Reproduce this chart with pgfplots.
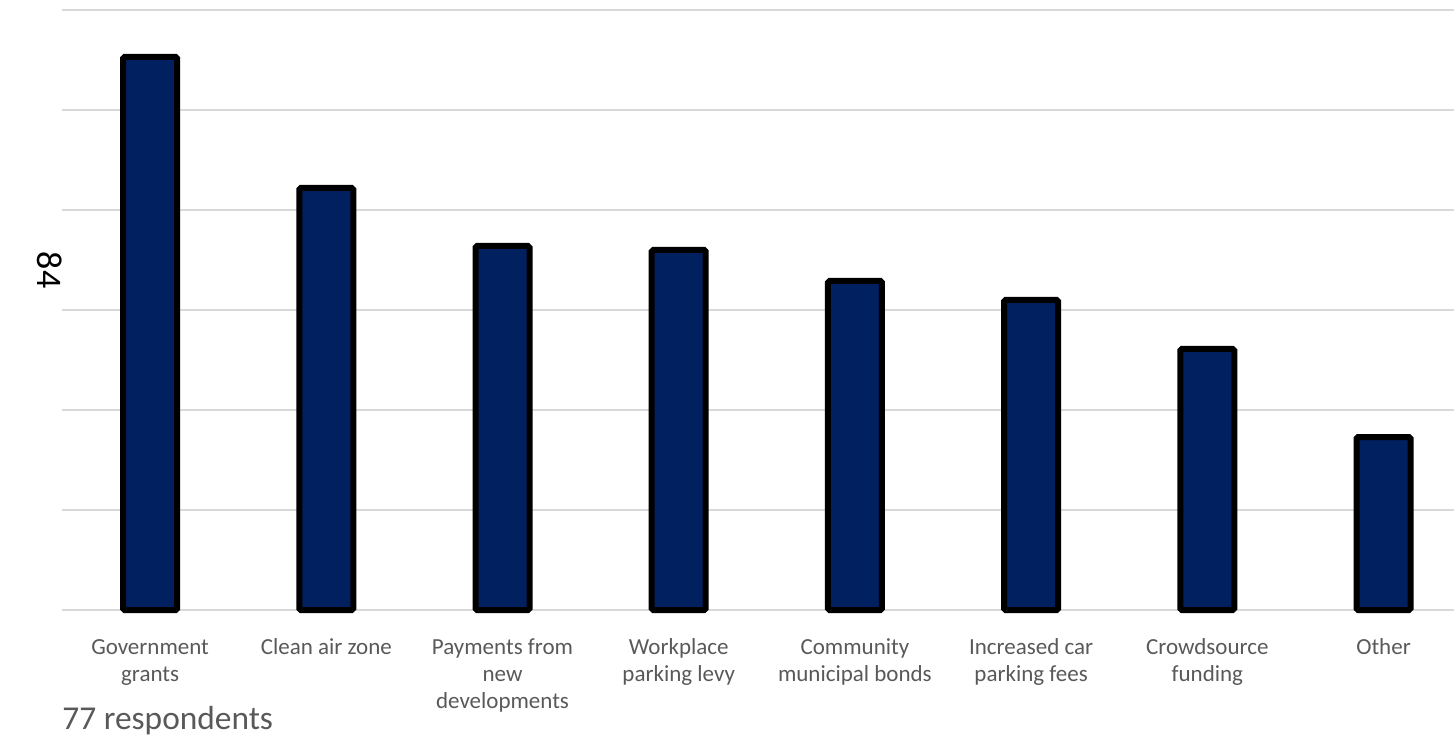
\documentclass[border=0pt]{standalone}
\usepackage{pgfplots}
\pgfplotsset{compat=1.18}
\usepackage{fontspec}
\setmainfont{Carlito}
\definecolor{barnavy}{RGB}{1,32,96}
\definecolor{gridgray}{RGB}{217,217,217}
\definecolor{labgray}{RGB}{89,89,89}
\begin{document}
\begin{tikzpicture}
\path[use as bounding box] (-31pt,-64.5pt) rectangle (696pt,305pt);
\begin{axis}[
  at={(0,0)}, anchor=south west,
  scale only axis,
  width=696pt, height=300pt,
  xmin=-0.5, xmax=7.40,
  ymin=0, ymax=60,
  ytick={0,10,20,30,40,50,60},
  yticklabels={},
  ymajorgrids,
  grid style={gridgray, line width=1pt},
  axis line style={draw=none},
  major tick length=0pt,
  xtick={0,1,2,3,4,5,6,7},
  xticklabels={{\strut Government\\grants}, {\strut Clean air zone}, {\strut Payments from\\new\\developments}, {\strut Workplace\\parking levy}, {\strut Community\\municipal bonds}, {\strut Increased car\\parking fees}, {\strut Crowdsource\\funding}, {\strut Other}},
  xticklabel style={align=center, font=\fontsize{11.5}{13.6}\selectfont, text=labgray, yshift=-9pt},
  clip=false,
]
\addplot[ybar, bar width=27pt, fill=barnavy, draw=black, line width=3pt, rounded corners=0.8pt] coordinates {
  (0,55.3) (1,42.2) (2,36.4) (3,36.0) (4,32.9) (5,31.0) (6,26.1) (7,17.3)
};
\end{axis}
\node[anchor=base west, font=\fontsize{16.7}{20}\selectfont, text=labgray, inner sep=0pt] at (0,-59.5pt) {77 respondents};
\node[rotate=-90, font=\fontsize{18}{20}\selectfont, inner sep=0pt] at (-6pt,170pt) {84};
\end{tikzpicture}
\end{document}
